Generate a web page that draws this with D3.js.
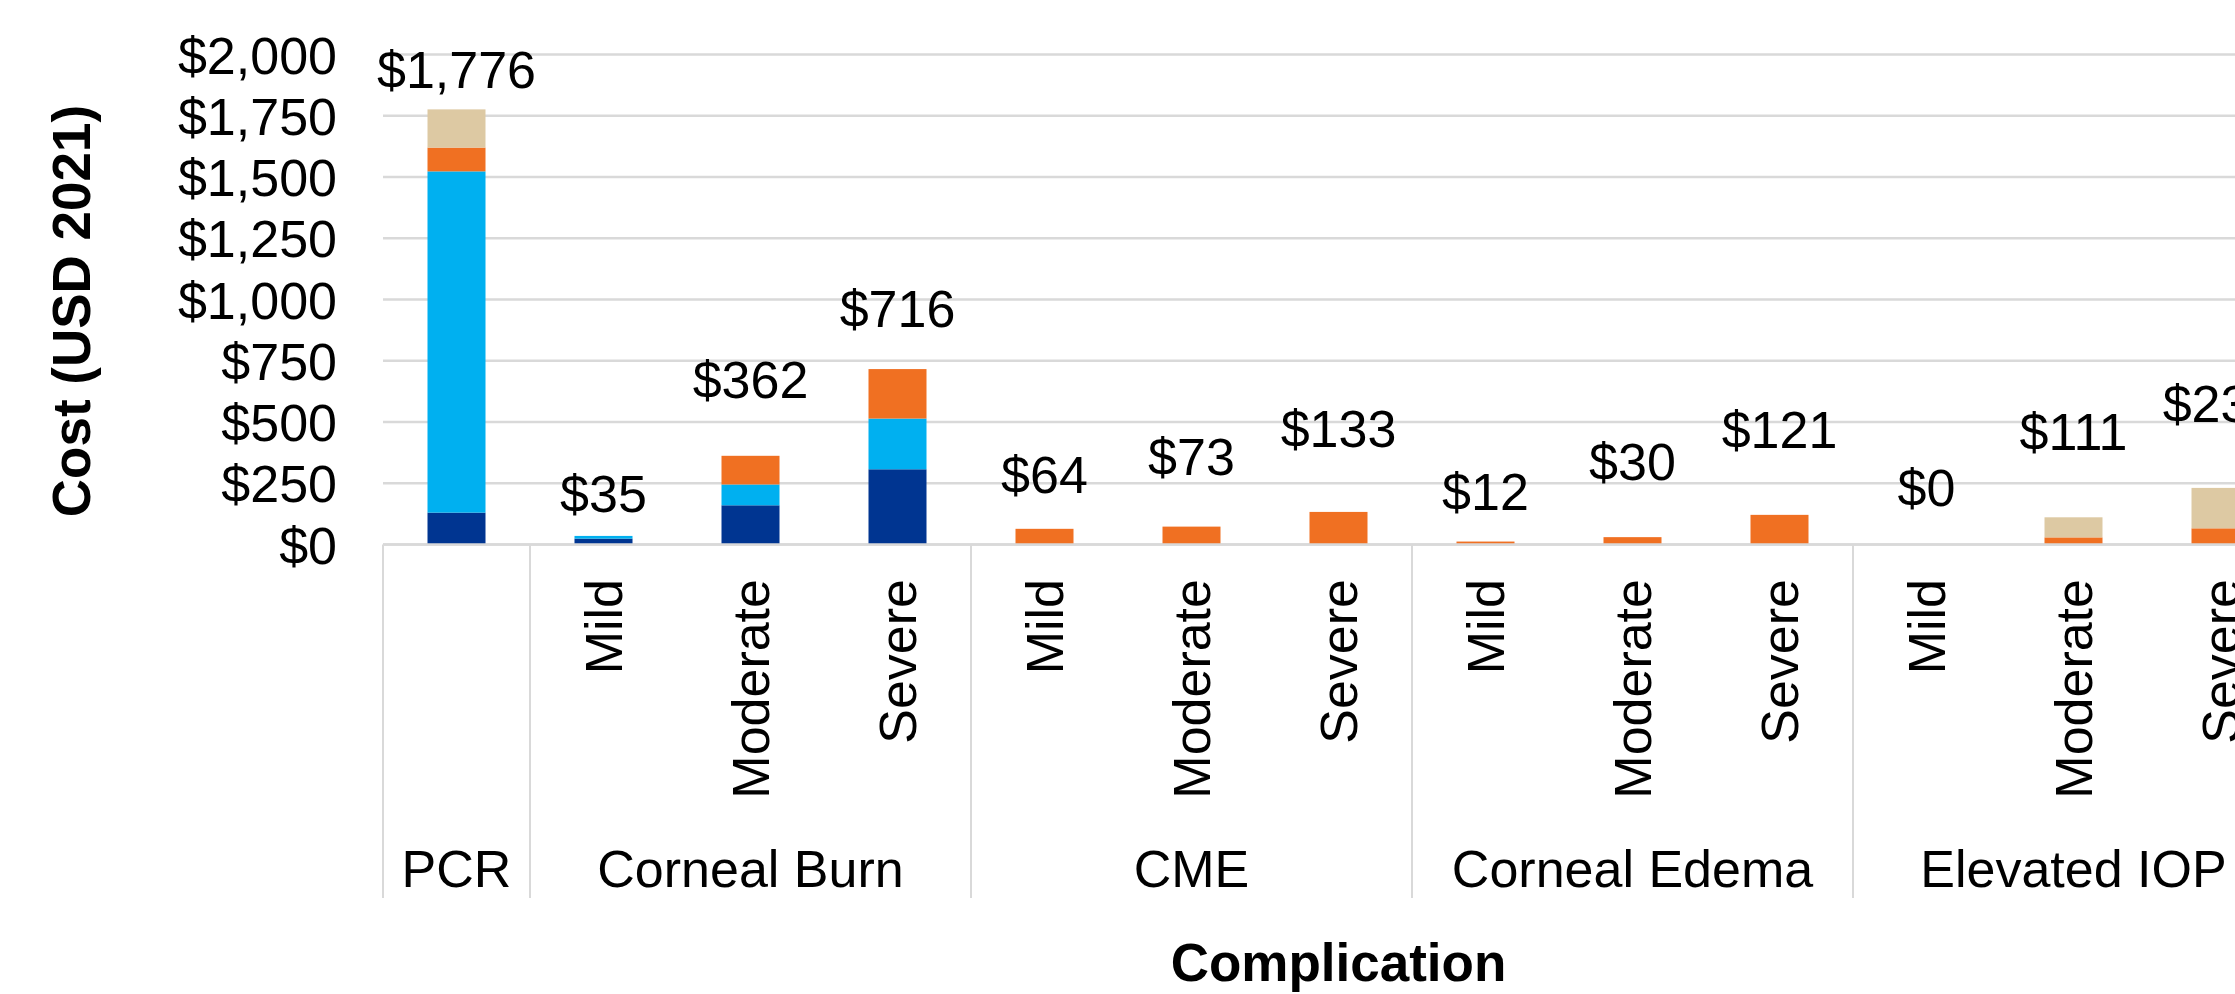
<!DOCTYPE html>
<html>
<head>
<meta charset="utf-8">
<script src="https://cdn.jsdelivr.net/npm/d3@7"></script>
<style>
  html, body { margin: 0; padding: 0; background: #ffffff; }
  svg { display: block; }
  text { font-family: "Liberation Sans", Arial, sans-serif; fill: #000; }
</style>
</head>
<body>
<svg id="chart" width="2235" height="994"></svg>
<script>
// ---------------- data ----------------
const groups = ["PCR", "Corneal Burn", "CME", "Corneal Edema", "Elevated IOP"];
const subLevels = ["Mild", "Moderate", "Severe"];
// bar slots: PCR alone, then each other complication split by severity
const slotGroup = ["PCR", "Corneal Burn", "Corneal Burn", "Corneal Burn", "CME", "CME", "CME",
                   "Corneal Edema", "Corneal Edema", "Corneal Edema", "Elevated IOP", "Elevated IOP", "Elevated IOP"];
const slotSub   = ["", "Mild", "Moderate", "Severe", "Mild", "Moderate", "Severe",
                   "Mild", "Moderate", "Severe", "Mild", "Moderate", "Severe"];
const seriesNames = ["Component 1", "Component 2", "Component 3", "Component 4"];
const seriesNavy  = [130, 24, 160, 307, 0, 0, 0, 0, 0, 0, 0, 0, 0];
const seriesCyan  = [1393, 11, 85, 207, 0, 0, 0, 0, 0, 0, 0, 0, 0];
const seriesOrange = [97, 0, 117, 202, 64, 73, 133, 12, 30, 121, 0, 29, 66];
const seriesTan   = [156, 0, 0, 0, 0, 0, 0, 0, 0, 0, 0, 82, 165];
const totals      = [1776, 35, 362, 716, 64, 73, 133, 12, 30, 121, 0, 111, 231];
// where each total label sits, in axis units
const labelAt     = [1865, 133, 598, 888, 210, 284, 398, 141, 263, 394, 157, 386, 500];
const yTicks = [0, 250, 500, 750, 1000, 1250, 1500, 1750, 2000];
const seriesColors = ["#003591", "#00B0F0", "#F07022", "#DDC9A3"];

// ---------------- layout ----------------
const svg = d3.select("#chart");
const W = 2235, H = 994;
svg.append("rect").attr("width", W).attr("height", H).attr("fill", "#fff");

const plotLeft = 383, plotTop = 54.5, plotBottom = 544.5;
const slotStep = 147;
const nSlots = slotGroup.length;
const slotKeys = d3.range(nSlots);
const fs = 52;

const barFrac = 58 / slotStep;
const x = d3.scaleBand().domain(slotKeys)
  .range([plotLeft, plotLeft + nSlots * slotStep])
  .paddingInner(1 - barFrac).paddingOuter((1 - barFrac) / 2);
const xSlot = d3.scaleBand().domain(slotKeys)
  .range([plotLeft, plotLeft + nSlots * slotStep]).padding(0);
const y = d3.scaleLinear().domain([0, 2000]).range([plotBottom, plotTop]);

// gridlines
svg.append("g").selectAll("line").data(yTicks).join("line")
  .attr("x1", plotLeft).attr("x2", plotLeft + nSlots * slotStep)
  .attr("y1", d => y(d)).attr("y2", d => y(d))
  .attr("stroke", "#D9D9D9").attr("stroke-width", 2.5);

// y axis labels
const yAxis = d3.axisLeft(y).tickValues(yTicks).tickFormat(d3.format("$,")).tickSize(0).tickPadding(0);
const yg = svg.append("g").attr("transform", `translate(337,0)`).call(yAxis);
yg.select(".domain").remove();
yg.selectAll("text").attr("font-size", fs).attr("font-family", "Liberation Sans, Arial, sans-serif")
  .attr("fill", "#000").attr("dy", "0.36em").attr("text-anchor", "end");

// stacked bars
const rows = slotKeys.map(i => ({
  i, s0: seriesNavy[i], s1: seriesCyan[i], s2: seriesOrange[i], s3: seriesTan[i]
}));
const stack = d3.stack().keys(["s0", "s1", "s2", "s3"]);
const stacked = stack(rows);
svg.append("g").selectAll("g").data(stacked).join("g")
  .attr("fill", (d, k) => seriesColors[k])
  .selectAll("rect").data(d => d).join("rect")
  .attr("x", d => x(d.data.i))
  .attr("width", x.bandwidth())
  .attr("y", d => y(d[1]))
  .attr("height", d => Math.max(0, y(d[0]) - y(d[1])));

// total labels
svg.append("g").selectAll("text").data(slotKeys).join("text")
  .attr("x", i => x(i) + x.bandwidth() / 2)
  .attr("y", i => y(labelAt[i]))
  .attr("text-anchor", "middle")
  .attr("font-size", fs)
  .text(i => d3.format("$,")(totals[i]));

// category axis: baseline, separators
const axisBottomY = 898;
svg.append("line").attr("x1", plotLeft).attr("x2", plotLeft + nSlots * slotStep)
  .attr("y1", plotBottom).attr("y2", plotBottom).attr("stroke", "#D9D9D9").attr("stroke-width", 2.5);

const groupSpans = groups.map(g => {
  const idx = slotKeys.filter(i => slotGroup[i] === g);
  return { g, x0: xSlot(idx[0]), x1: xSlot(idx[idx.length - 1]) + xSlot.bandwidth() };
});
const sepX = [groupSpans[0].x0].concat(groupSpans.map(s => s.x1));
svg.append("g").selectAll("line").data(sepX).join("line")
  .attr("x1", d => d).attr("x2", d => d)
  .attr("y1", plotBottom).attr("y2", axisBottomY)
  .attr("stroke", "#D9D9D9").attr("stroke-width", 2);

// severity labels (rotated)
svg.append("g").selectAll("text").data(slotKeys.filter(i => slotSub[i] !== "")).join("text")
  .attr("transform", i => `translate(${xSlot(i) + xSlot.bandwidth() / 2},579) rotate(-90)`)
  .attr("text-anchor", "end")
  .attr("dy", "0.35em")
  .attr("font-size", fs)
  .text(i => slotSub[i]);

// group labels
svg.append("g").selectAll("text").data(groupSpans).join("text")
  .attr("x", d => (d.x0 + d.x1) / 2)
  .attr("y", 887)
  .attr("text-anchor", "middle")
  .attr("font-size", fs)
  .text(d => d.g);

// axis titles
svg.append("text")
  .attr("x", (plotLeft + plotLeft + nSlots * slotStep) / 2)
  .attr("y", 981)
  .attr("text-anchor", "middle")
  .attr("font-size", 53).attr("font-weight", "bold")
  .text("Complication");

svg.append("text")
  .attr("transform", "translate(71,311) rotate(-90)")
  .attr("text-anchor", "middle")
  .attr("dy", "0.35em")
  .attr("font-size", 53).attr("font-weight", "bold")
  .text("Cost (USD 2021)");
</script>
</body>
</html>
